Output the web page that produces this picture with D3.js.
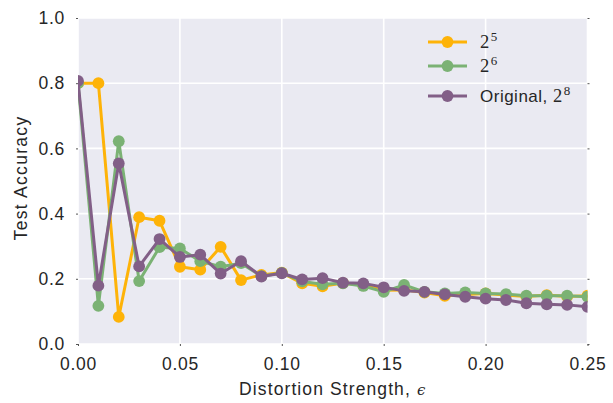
<!DOCTYPE html>
<html>
<head>
<meta charset="utf-8">
<script src="https://cdn.jsdelivr.net/npm/d3@7"></script>
<style>
  html, body { margin: 0; padding: 0; background: #ffffff; }
  svg { display: block; }
  text { font-family: "Liberation Sans", Arial, sans-serif; fill: #262626; }
</style>
</head>
<body>
<div id="chart"></div>
<script>
// Distortion strengths on the x axis
const epsilons = [0.00, 0.01, 0.02, 0.03, 0.04, 0.05, 0.06, 0.07, 0.08, 0.09,
                  0.10, 0.11, 0.12, 0.13, 0.14, 0.15, 0.16, 0.17, 0.18, 0.19,
                  0.20, 0.21, 0.22, 0.23, 0.24, 0.25];

// Test accuracy for each quantisation level
const acc32 = [0.800, 0.800, 0.083, 0.389, 0.378, 0.237, 0.228, 0.298, 0.196, 0.212,
               0.219, 0.186, 0.177, 0.187, 0.180, 0.165, 0.166, 0.158, 0.148, 0.152,
               0.155, 0.150, 0.146, 0.150, 0.146, 0.148];
const acc64 = [0.800, 0.117, 0.622, 0.193, 0.297, 0.293, 0.254, 0.237, 0.248, 0.208,
               0.218, 0.192, 0.183, 0.186, 0.178, 0.160, 0.181, 0.160, 0.155, 0.158,
               0.155, 0.153, 0.148, 0.148, 0.148, 0.145];
const acc256 = [0.807, 0.179, 0.554, 0.238, 0.322, 0.267, 0.274, 0.216, 0.254, 0.207,
                0.217, 0.198, 0.202, 0.188, 0.186, 0.174, 0.163, 0.160, 0.152, 0.145,
                0.139, 0.135, 0.125, 0.122, 0.120, 0.114];

const seriesNames = ["2^5", "2^6", "Original, 2^8"];
const seriesColors = ["#feb308", "#7bb274", "#825f87"];
const xTicks = [0.00, 0.05, 0.10, 0.15, 0.20, 0.25];
const yTicks = [0.0, 0.2, 0.4, 0.6, 0.8, 1.0];

const series = [
  { name: seriesNames[0], color: seriesColors[0], values: acc32, base: "2", exp: "5", prefix: "" },
  { name: seriesNames[1], color: seriesColors[1], values: acc64, base: "2", exp: "6", prefix: "" },
  { name: seriesNames[2], color: seriesColors[2], values: acc256, base: "2", exp: "8", prefix: "Original, " }
];

const W = 613, H = 403;
const plot = { left: 78, right: 587.5, top: 18, bottom: 344 };

const svg = d3.select("#chart").append("svg")
  .attr("width", W).attr("height", H);

const x = d3.scaleLinear().domain([0, 0.25]).range([plot.left, plot.right]);
const y = d3.scaleLinear().domain([0, 1]).range([plot.bottom, plot.top]);

// Axes background
svg.append("rect")
  .attr("x", plot.left).attr("y", plot.top)
  .attr("width", plot.right - plot.left).attr("height", plot.bottom - plot.top)
  .attr("fill", "#eaeaf2");

svg.append("defs").append("clipPath").attr("id", "plotClip")
  .append("rect")
  .attr("x", plot.left).attr("y", plot.top)
  .attr("width", plot.right - plot.left).attr("height", plot.bottom - plot.top);

// White grid lines
const grid = svg.append("g");
grid.selectAll("line.gx").data(xTicks).enter().append("line")
  .attr("x1", d => x(d)).attr("x2", d => x(d))
  .attr("y1", plot.top).attr("y2", plot.bottom)
  .attr("stroke", "#ffffff").attr("stroke-width", 1.6);
grid.selectAll("line.gy").data(yTicks).enter().append("line")
  .attr("x1", plot.left).attr("x2", plot.right)
  .attr("y1", d => y(d)).attr("y2", d => y(d))
  .attr("stroke", "#ffffff").attr("stroke-width", 1.6);

// Axes with tiny tick marks
const xAxis = d3.axisBottom(x).tickValues(xTicks).tickFormat(d3.format(".2f")).tickSize(2).tickPadding(12);
const yAxis = d3.axisLeft(y).tickValues(yTicks).tickFormat(d3.format(".1f")).tickSize(2).tickPadding(11);

const gx = svg.append("g").attr("transform", `translate(0,${plot.bottom})`).call(xAxis);
const gy = svg.append("g").attr("transform", `translate(${plot.left},0)`).call(yAxis);
[gx, gy].forEach(g => {
  g.select(".domain").remove();
  g.selectAll(".tick line").attr("stroke", "#555").attr("stroke-width", 1);
  g.selectAll(".tick text").attr("fill", "#262626")
    .style("font-family", '"Liberation Sans", Arial, sans-serif')
    .style("font-size", "17.5px")
    .style("letter-spacing", "0.7px");
});
// right-hand tick marks
svg.append("g").attr("transform", `translate(${plot.right},0)`)
  .call(d3.axisRight(y).tickValues(yTicks).tickSize(2).tickFormat(""))
  .call(g => g.select(".domain").remove())
  .call(g => g.selectAll(".tick line").attr("stroke", "#555"));

// Series lines and markers
const line = d3.line().x((d, i) => x(epsilons[i])).y(d => y(d));
const marks = svg.append("g").attr("clip-path", "url(#plotClip)");
series.forEach(s => {
  marks.append("path")
    .datum(s.values)
    .attr("d", line)
    .attr("fill", "none")
    .attr("stroke", s.color)
    .attr("stroke-width", 3)
    .attr("stroke-linejoin", "round");
  marks.selectAll(null).data(s.values).enter().append("circle")
    .attr("cx", (d, i) => x(epsilons[i]))
    .attr("cy", d => y(d))
    .attr("r", 5.9)
    .attr("fill", s.color);
});

// Axis titles
const xt = svg.append("text")
  .attr("x", (plot.left + plot.right) / 2).attr("y", 394.5)
  .attr("text-anchor", "middle")
  .style("font-size", "17.5px")
  .style("letter-spacing", "1.1px");
xt.append("tspan").text("Distortion Strength, ");
xt.append("tspan").text("\u03f5")
  .style("font-family", '"DejaVu Serif", "Liberation Serif", serif')
  .style("font-style", "italic").style("font-size", "15px");

svg.append("text")
  .attr("transform", `translate(27,${(plot.top + plot.bottom) / 2 - 3}) rotate(-90)`)
  .attr("text-anchor", "middle")
  .style("font-size", "17.5px")
  .style("letter-spacing", "1.3px")
  .text("Test Accuracy");

// Legend
const legendRows = [42, 66, 96];
const legend = svg.append("g");
series.forEach((s, i) => {
  const ly = legendRows[i];
  legend.append("line")
    .attr("x1", 428).attr("x2", 467).attr("y1", ly).attr("y2", ly)
    .attr("stroke", s.color).attr("stroke-width", 3);
  legend.append("circle")
    .attr("cx", 447.5).attr("cy", ly).attr("r", 5.9).attr("fill", s.color);
  const t = legend.append("text")
    .attr("x", 480).attr("y", ly + 6)
    .style("font-size", "17px")
    .style("letter-spacing", "0.5px");
  if (s.prefix) t.append("tspan").text(s.prefix);
  t.append("tspan").text(s.base)
    .style("font-family", '"Liberation Serif", "DejaVu Serif", serif')
    .style("font-size", "18.5px");
  t.append("tspan").text(s.exp)
    .attr("dx", 1).attr("dy", -7)
    .style("font-family", '"Liberation Serif", "DejaVu Serif", serif')
    .style("font-size", "13px");
});
</script>
</body>
</html>
